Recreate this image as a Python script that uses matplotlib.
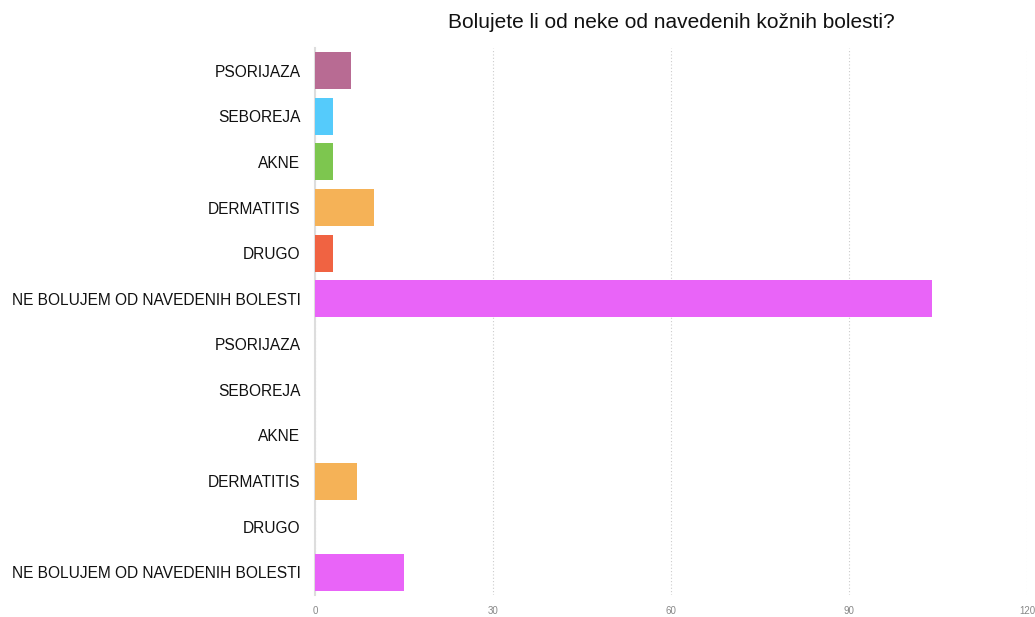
import matplotlib
matplotlib.use("Agg")
import matplotlib.pyplot as plt

categories = ["PSORIJAZA", "SEBOREJA", "AKNE", "DERMATITIS", "DRUGO",
              "NE BOLUJEM OD NAVEDENIH BOLESTI",
              "PSORIJAZA", "SEBOREJA", "AKNE", "DERMATITIS", "DRUGO",
              "NE BOLUJEM OD NAVEDENIH BOLESTI"]
values = [6, 3, 3, 10, 3, 104, 0, 0, 0, 7, 0, 15]
colors = ["#b86b93", "#55cbfb", "#7dc64f", "#f5b257", "#f06342", "#e964f8",
          "#b86b93", "#55cbfb", "#7dc64f", "#f5b257", "#f06342", "#e964f8"]
xticks = [0, 30, 60, 90, 120]
title = "Bolujete li od neke od navedenih kožnih bolesti?"

plt.rcParams['font.family'] = ['Liberation Sans', 'DejaVu Sans']

fig = plt.figure(figsize=(10.35, 6.17), dpi=100)
ax = fig.add_axes([315/1035, 1-595/617, (1027-315)/1035, (595-48)/617])

ypos = list(range(len(categories)))
ax.barh(ypos, values, height=0.81, color=colors, zorder=3)
ax.set_ylim(len(categories)-0.5, -0.5)
ax.set_xlim(0, 120)
ax.set_yticks(ypos)
ax.set_yticklabels(categories, fontsize=11.2, color="#111111")
ax.set_xticks(xticks)
ax.set_xticklabels([str(t) for t in xticks], fontsize=7, color="#888888")
ax.tick_params(axis='y', length=0, pad=10.5)
ax.tick_params(axis='x', length=0, pad=8)
for s in ["top", "right", "bottom"]:
    ax.spines[s].set_visible(False)
ax.spines["left"].set_color("#dddddd")
ax.spines["left"].set_linewidth(1.5)
ax.grid(axis='x', linestyle=(0, (1, 2)), color="#cccccc", linewidth=0.8, zorder=0)
ax.set_axisbelow(True)

fig.text(671/1035, 1-23/617, title, ha='center', va='center', fontsize=15, color="#111111")

fig.savefig("out.png", dpi=100)
